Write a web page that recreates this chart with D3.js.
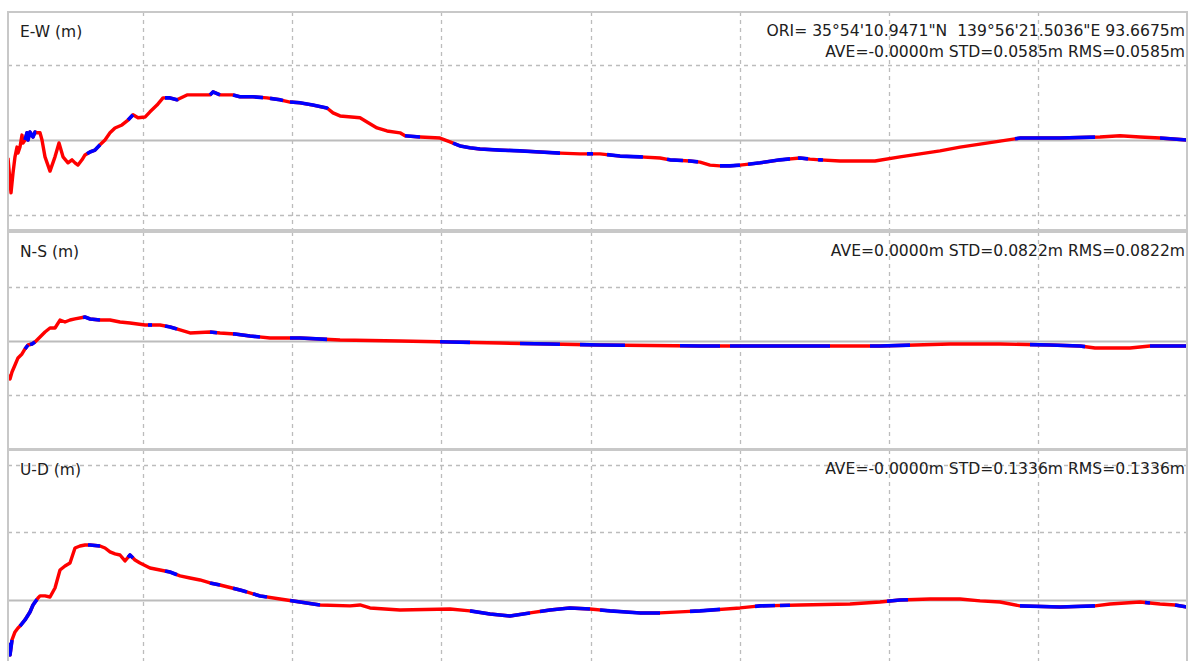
<!DOCTYPE html>
<html>
<head>
<meta charset="utf-8">
<script src="https://cdn.jsdelivr.net/npm/d3@7"></script>
<style>
  html, body { margin: 0; padding: 0; background: #ffffff; }
  svg { display: block; }
  text { font-family: "DejaVu Sans", Verdana, sans-serif; fill: #202020; white-space: pre; }
</style>
</head>
<body>
<svg id="chart" width="1190" height="661"></svg>
<script>
// Time axis: epochs (12 s) from start of the session
const epochSpan = [0, 1179];
const gridEpochs = [135, 284, 433, 583, 732, 881, 1030];

// Header text
const originText = "ORI= 35°54'10.9471\"N  139°56'21.5036\"E 93.6675m";
const panelTitles = ["E-W (m)", "N-S (m)", "U-D (m)"];
const panelStats = [
  "AVE=-0.0000m STD=0.0585m RMS=0.0585m",
  "AVE=0.0000m STD=0.0822m RMS=0.0822m",
  "AVE=-0.0000m STD=0.1336m RMS=0.1336m"
];

// Value range (m) and grid ticks of each panel
const ewRange = [-0.24, 0.341];
const nsRange = [-1.0, 1.009];
const udRange = [-0.504, 1.111];
const ewTicks = [-0.2, 0, 0.2];
const nsTicks = [-0.5, 0, 0.5];
const udTicks = [-0.5, 0, 0.5, 1.0];

// E-W component
const ewEpoch = [0,3,5,7,9,10,12,14,15,17,19,20,22,25,27,30,32,34,37,42,47,51,55,60,64,67,70,74,77,82,87,92,97,102,107,114,120,125,130,137,142,149,155,162,169,179,192,202,205,212,225,232,245,259,272,282,292,305,319,325,332,352,359,369,379,392,397,412,432,442,452,462,472,492,512,532,552,572,592,612,632,652,662,682,692,702,712,722,732,752,772,792,802,812,832,867,892,912,932,952,972,992,1012,1052,1092,1112,1132,1152,1179];
const ewValue = [-0.048,-0.141,-0.088,-0.045,-0.019,-0.035,-0.019,0.013,-0.008,0,0.019,0,0.021,0.008,0.021,0.019,0.019,0,-0.045,-0.083,-0.045,-0.008,-0.045,-0.061,-0.053,-0.061,-0.067,-0.053,-0.040,-0.032,-0.027,-0.013,0,0.019,0.032,0.040,0.053,0.067,0.059,0.061,0.075,0.093,0.112,0.112,0.107,0.120,0.120,0.120,0.128,0.120,0.120,0.115,0.115,0.112,0.107,0.101,0.099,0.093,0.085,0.072,0.064,0.059,0.048,0.032,0.024,0.019,0.011,0.008,0.005,-0.005,-0.016,-0.021,-0.024,-0.027,-0.029,-0.032,-0.035,-0.037,-0.037,-0.043,-0.045,-0.048,-0.053,-0.056,-0.059,-0.067,-0.069,-0.069,-0.067,-0.061,-0.053,-0.048,-0.051,-0.053,-0.056,-0.056,-0.045,-0.037,-0.029,-0.019,-0.011,-0.003,0.005,0.005,0.008,0.011,0.008,0.005,0];
const ewDgps = [[17,28],[79,92],[120,125],[157,170],[202,212],[225,255],[262,275],[282,320],[397,412],[445,552],[579,585],[599,635],[659,675],[680,690],[712,732],[740,782],[790,800],[810,815],[1007,1087],[1152,1179]];

// N-S component
const nsEpoch = [0,2,4,7,10,14,17,20,24,27,32,37,42,47,52,57,62,67,77,82,92,102,112,122,137,152,162,172,182,202,212,227,242,262,292,332,392,442,492,542,592,692,872,942,992,1042,1072,1087,1122,1142,1179];
const nsValue = [-0.315,-0.352,-0.287,-0.222,-0.157,-0.120,-0.074,-0.037,-0.028,-0.009,0.037,0.083,0.120,0.120,0.194,0.176,0.194,0.204,0.222,0.204,0.194,0.194,0.176,0.167,0.148,0.148,0.130,0.102,0.074,0.083,0.074,0.065,0.046,0.028,0.028,0.009,0,-0.009,-0.019,-0.028,-0.037,-0.046,-0.046,-0.028,-0.028,-0.037,-0.046,-0.065,-0.065,-0.046,-0.046];
const nsDgps = [[17,20],[22,27],[75,92],[140,144],[157,169],[202,209],[225,252],[282,319],[432,462],[512,552],[572,617],[672,712],[722,822],[862,902],[1022,1077],[1142,1179]];

// U-D component
const udEpoch = [0,2,4,7,10,12,17,22,25,30,32,37,42,47,52,57,62,67,72,77,82,92,97,102,107,112,117,122,127,132,142,152,162,172,182,192,202,212,232,252,272,292,312,342,352,362,392,442,462,482,502,522,542,562,582,602,632,652,692,732,752,792,842,872,892,922,952,972,992,1012,1052,1087,1102,1132,1152,1167,1179];
const udValue = [-0.319,-0.407,-0.296,-0.237,-0.207,-0.193,-0.148,-0.089,-0.037,0.015,0.030,0.030,0.022,0.089,0.222,0.252,0.274,0.385,0.400,0.407,0.407,0.400,0.385,0.356,0.341,0.333,0.289,0.333,0.296,0.274,0.237,0.222,0.207,0.178,0.163,0.148,0.126,0.111,0.074,0.030,0.007,-0.015,-0.037,-0.044,-0.037,-0.059,-0.074,-0.067,-0.081,-0.104,-0.119,-0.096,-0.074,-0.059,-0.067,-0.081,-0.096,-0.096,-0.081,-0.059,-0.044,-0.037,-0.030,-0.015,0,0.007,0.007,-0.007,-0.015,-0.044,-0.052,-0.044,-0.030,-0.015,-0.030,-0.037,-0.052];
const udDgps = [[0,4],[12,29],[80,92],[120,125],[157,169],[202,212],[225,239],[245,259],[282,312],[462,522],[532,582],[592,652],[682,712],[747,767],[772,782],[879,900],[1012,1087],[1137,1142],[1167,1179]];

// Assemble panel descriptions from the arrays above
const panels = [
  { title: panelTitles[0], stat: panelStats[0], range: ewRange, ticks: ewTicks, t: ewEpoch, v: ewValue, dgps: ewDgps, top: 12, bottom: 230 },
  { title: panelTitles[1], stat: panelStats[1], range: nsRange, ticks: nsTicks, t: nsEpoch, v: nsValue, dgps: nsDgps, top: 232, bottom: 449 },
  { title: panelTitles[2], stat: panelStats[2], range: udRange, ticks: udTicks, t: udEpoch, v: udValue, dgps: udDgps, top: 450, bottom: 668 }
];

const svg = d3.select("#chart");
const left = 8, right = 1187;
const x = d3.scaleLinear().domain(epochSpan).range([left, right]);

const singleColor = "#ff0000";
const dgpsColor = "#0000ff";
const gridColor = "#bcbcbc";

panels.forEach((p, i) => {
  const y = d3.scaleLinear().domain(p.range).range([p.bottom, p.top]);
  const g = svg.append("g");
  const clipId = "clip" + i;
  svg.append("clipPath").attr("id", clipId)
    .append("rect").attr("x", left).attr("y", p.top)
    .attr("width", right - left).attr("height", p.bottom - p.top);

  // vertical dashed grid
  g.append("g").selectAll("line").data(gridEpochs).join("line")
    .attr("x1", d => Math.round(x(d)) + 0.5).attr("x2", d => Math.round(x(d)) + 0.5)
    .attr("y1", p.top).attr("y2", p.bottom)
    .attr("stroke", gridColor).attr("stroke-width", 1.3)
    .attr("stroke-dasharray", "4,4");

  // horizontal grid; the zero line is solid
  g.append("g").selectAll("line").data(p.ticks).join("line")
    .attr("x1", left).attr("x2", right)
    .attr("y1", d => Math.round(y(d)) + 0.5).attr("y2", d => Math.round(y(d)) + 0.5)
    .attr("stroke", gridColor)
    .attr("stroke-width", d => d === 0 ? 1.8 : 1.3)
    .attr("stroke-dasharray", d => d === 0 ? null : "4,4")
    .attr("clip-path", `url(#${clipId})`);

  const pts = p.t.map((t, k) => [t, p.v[k]]);
  const line = d3.line().x(d => x(d[0])).y(d => y(d[1]));

  const plot = g.append("g").attr("clip-path", `url(#${clipId})`);
  plot.append("path").attr("d", line(pts))
    .attr("fill", "none").attr("stroke", singleColor)
    .attr("stroke-width", 3.4).attr("stroke-linejoin", "round");

  // DGPS stretches of the track drawn on top
  const interp = t => {
    const j = d3.bisectLeft(p.t, t);
    if (j <= 0) return p.v[0];
    if (j >= p.t.length) return p.v[p.v.length - 1];
    const t0 = p.t[j - 1], t1 = p.t[j];
    return p.v[j - 1] + (p.v[j] - p.v[j - 1]) * (t - t0) / (t1 - t0);
  };
  p.dgps.forEach(([a, b]) => {
    const seg = [[a, interp(a)]];
    pts.forEach(d => { if (d[0] > a && d[0] < b) seg.push(d); });
    seg.push([b, interp(b)]);
    plot.append("path").attr("d", line(seg))
      .attr("fill", "none").attr("stroke", dgpsColor)
      .attr("stroke-width", 3.6).attr("stroke-linejoin", "round");
  });

  // frame
  g.append("rect")
    .attr("x", left).attr("y", p.top)
    .attr("width", right - left).attr("height", p.bottom - p.top)
    .attr("fill", "none").attr("stroke", "#c8c8c8").attr("stroke-width", 2);

  // labels
  g.append("text").attr("x", 20).attr("y", p.top + 25)
    .attr("font-size", 15.5).text(p.title);
  g.append("text").attr("x", 1185).attr("y", p.top + (i === 0 ? 45 : 24))
    .attr("text-anchor", "end").attr("font-size", 15.6).text(p.stat);
  if (i === 0) {
    g.append("text").attr("x", 1185).attr("y", p.top + 24)
      .attr("text-anchor", "end").attr("font-size", 15.6).text(originText);
  }
});
</script>
</body>
</html>
